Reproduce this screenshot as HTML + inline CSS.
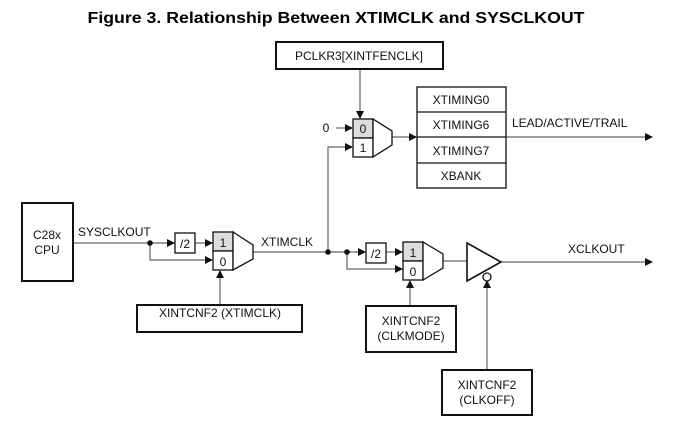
<!DOCTYPE html>
<html><head><style>
html,body{margin:0;padding:0;background:#fff;}
svg{display:block;font-family:"Liberation Sans",Arial,sans-serif;}
</style></head><body>
<svg width="681" height="425" viewBox="0 0 681 425" xmlns="http://www.w3.org/2000/svg">
<defs>
<marker id="a" markerWidth="8" markerHeight="8" refX="7" refY="4" orient="auto" markerUnits="userSpaceOnUse">
<path d="M0,0 L8,4 L0,8 Z" fill="#111"/></marker>
</defs>
<text x="336" y="23" text-anchor="middle" font-size="16" font-weight="bold" textLength="497" lengthAdjust="spacingAndGlyphs">Figure 3. Relationship Between XTIMCLK and SYSCLKOUT</text>

<g stroke="#666" stroke-width="1.2" fill="none">
<!-- sysclkout -->
<line x1="73" y1="243" x2="174" y2="243" marker-end="url(#a)"/>
<line x1="195" y1="243" x2="212" y2="243" marker-end="url(#a)"/>
<polyline points="150,243 150,260 212,260" marker-end="url(#a)"/>
<line x1="220" y1="305" x2="220" y2="271" marker-end="url(#a)"/>
<!-- xtimclk -->
<line x1="253" y1="252" x2="365" y2="252" marker-end="url(#a)"/>
<line x1="386" y1="252" x2="402" y2="252" marker-end="url(#a)"/>
<polyline points="347,252 347,269 402,269" marker-end="url(#a)"/>
<polyline points="328,252 328,147 352,147" marker-end="url(#a)"/>
<line x1="336" y1="128" x2="352" y2="128" marker-end="url(#a)"/>
<line x1="360" y1="69" x2="360" y2="118" marker-end="url(#a)"/>
<line x1="392" y1="137" x2="416" y2="137" marker-end="url(#a)"/>
<line x1="506" y1="137" x2="652" y2="137" marker-end="url(#a)"/>
<line x1="410" y1="306" x2="410" y2="281" marker-end="url(#a)"/>
<line x1="443" y1="261" x2="467" y2="261"/>
<line x1="501" y1="262" x2="652" y2="262" marker-end="url(#a)"/>
<line x1="487" y1="370" x2="487" y2="281" marker-end="url(#a)"/>
</g>
<g fill="#111"><circle cx="150" cy="243" r="2.8"/><circle cx="328" cy="252" r="2.8"/><circle cx="347" cy="252" r="2.8"/></g>

<g stroke="#111" stroke-width="2" fill="#fff">
<rect x="22" y="203" width="51" height="78"/>
<rect x="137" y="305" width="165" height="27"/>
<rect x="276" y="42" width="167" height="27"/>
<rect x="366" y="306" width="90" height="46"/>
<rect x="442" y="370" width="90" height="45"/>
</g>
<g stroke="#111" stroke-width="1.3" fill="#fff">
<rect x="175" y="233" width="20" height="20"/>
<rect x="366" y="243" width="20" height="20"/>
<rect x="417" y="87" width="89" height="101"/>
<line x1="417" y1="112" x2="506" y2="112"/><line x1="417" y1="137" x2="506" y2="137"/><line x1="417" y1="163" x2="506" y2="163"/>
<!-- mux1 -->
<rect x="213" y="232" width="20" height="19" fill="#ddd"/><rect x="213" y="251" width="20" height="19"/>
<polygon points="233,232 253,245 253,259 233,270"/>
<!-- mux2 -->
<rect x="353" y="119" width="20" height="19" fill="#ddd"/><rect x="353" y="138" width="20" height="19"/>
<polygon points="373,119 392,131 392,145 373,157"/>
<!-- mux3 -->
<rect x="403" y="242" width="20" height="19" fill="#ddd"/><rect x="403" y="261" width="20" height="19"/>
<polygon points="423,242 443,254 443,268 423,280"/>
<polygon points="467,243 501,262 467,281" stroke-width="1.6"/>
<circle cx="487" cy="277" r="4"/>
</g>

<g font-size="12" fill="#111" text-anchor="middle">
<text x="47" y="239">C28x</text><text x="47" y="254">CPU</text>
<text x="220" y="317">XINTCNF2 (XTIMCLK)</text>
<text x="359" y="60">PCLKR3[XINTFENCLK]</text>
<text x="411" y="325">XINTCNF2</text><text x="411" y="340">(CLKMODE)</text>
<text x="487" y="389">XINTCNF2</text><text x="487" y="404">(CLKOFF)</text>
<text x="461" y="104">XTIMING0</text><text x="461" y="129">XTIMING6</text>
<text x="461" y="155">XTIMING7</text><text x="461" y="180">XBANK</text>
<text x="185" y="248">/2</text><text x="376" y="258">/2</text>
<text x="223" y="247">1</text><text x="223" y="266">0</text>
<text x="363" y="133">0</text><text x="363" y="152">1</text>
<text x="413" y="257">1</text><text x="413" y="276">0</text>
<text x="326" y="132">0</text>
</g>
<g font-size="12" fill="#111">
<text x="78" y="236">SYSCLKOUT</text>
<text x="261" y="246">XTIMCLK</text>
<text x="512" y="127">LEAD/ACTIVE/TRAIL</text>
<text x="568" y="253">XCLKOUT</text>
</g>
</svg>
</body></html>
